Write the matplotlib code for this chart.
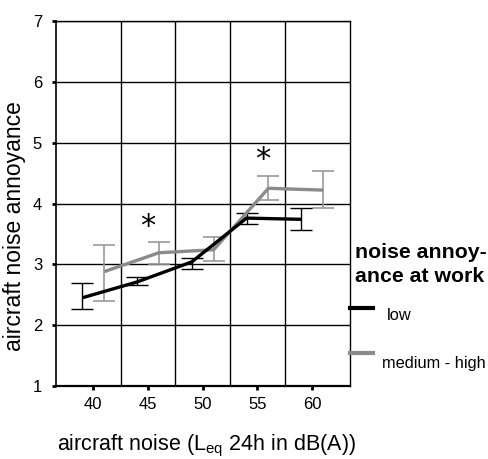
import matplotlib
matplotlib.use("Agg")
import matplotlib.pyplot as plt
from matplotlib.lines import Line2D
from matplotlib.transforms import offset_copy

plt.rcParams['font.family'] = ['Liberation Sans', 'DejaVu Sans']
plt.rcParams['mathtext.fontset'] = 'custom'
plt.rcParams['mathtext.rm'] = 'Liberation Sans'
plt.rcParams['mathtext.it'] = 'Liberation Sans'

# data
noise = [40, 45, 50, 55, 60]
low_mean = [2.45, 2.71, 3.04, 3.76, 3.74]
low_top = [2.69, 2.80, 3.11, 3.84, 3.92]
low_bot = [2.26, 2.66, 2.92, 3.66, 3.56]
high_mean = [2.88, 3.19, 3.24, 4.25, 4.22]
high_top = [3.32, 3.37, 3.45, 4.46, 4.54]
high_bot = [2.40, 3.00, 3.05, 4.05, 3.92]
star_x = [45, 55.5]
star_y = [3.70, 4.81]
yticks = [1, 2, 3, 4, 5, 6, 7]
xgrid = [42.5, 47.5, 52.5, 57.5]

fig = plt.figure(figsize=(4.89, 4.59), dpi=100)
ax = fig.add_axes([56/489, 1-386/459, (350-56)/489, (386-21)/459])

xl = [x - 1 for x in noise]
xh = [x + 1 for x in noise]

ax.errorbar(xh, high_mean,
            yerr=[[m - b for m, b in zip(high_mean, high_bot)],
                  [t - m for m, t in zip(high_mean, high_top)]],
            fmt='none', ecolor='#9a9a9a', elinewidth=1.2, capsize=8, capthick=1.2, zorder=3)
ax.errorbar(xl, low_mean,
            yerr=[[m - b for m, b in zip(low_mean, low_bot)],
                  [t - m for m, t in zip(low_mean, low_top)]],
            fmt='none', ecolor='black', elinewidth=1.0, capsize=8, capthick=1.0, zorder=3)
ax.plot(xh, high_mean, color='#8a8a8a', lw=2.4, zorder=4, solid_capstyle='butt')
ax.plot(xl, low_mean, color='black', lw=2.4, zorder=5, solid_capstyle='butt')

star_tr = offset_copy(ax.transData, fig=fig, y=-9.8, units='points')
for sx, sy in zip(star_x, star_y):
    ax.text(sx, sy, '*', ha='center', va='baseline', fontsize=22, color='black',
            family='DejaVu Sans', transform=star_tr, zorder=6)

ax.set_xlim(36.6, 63.45)
ax.set_ylim(1, 7)
ax.set_xticks(noise)
ax.set_xticklabels([str(v) for v in noise])
ax.set_yticks(yticks)
ax.set_yticklabels([str(v) for v in yticks])
ax.set_xticks(xgrid, minor=True)
ax.tick_params(axis='both', which='major', direction='out', length=3, width=2, labelsize=12, color='black')
ax.tick_params(axis='x', which='major', pad=5)
ax.tick_params(axis='y', which='major', pad=7)
ax.tick_params(axis='x', which='minor', length=0)
ax.grid(True, axis='y', which='major', color='black', lw=1.0)
ax.grid(True, axis='x', which='minor', color='black', lw=1.0)
ax.set_axisbelow(True)
for s in ax.spines.values():
    s.set_color('black')
    s.set_linewidth(1.0)
ax.spines['bottom'].set_linewidth(1.6)
ax.spines['left'].set_linewidth(1.2)

fig.text(15/489, 1-226/459, 'aircraft noise annoyance', rotation=90, ha='center', va='center', fontsize=16.5)
fig.text(206/489, 1-446/459, 'aircraft noise (L$_{\\mathrm{eq}}$ 24h in dB(A))', ha='center', va='center', fontsize=15.5)

# legend (manual)
fig.text(355/489, 1-252.7/459, 'noise annoy-', ha='left', va='center', fontsize=15.3, fontweight='bold')
fig.text(355/489, 1-276.7/459, 'ance at work', ha='left', va='center', fontsize=15.3, fontweight='bold')
fig.add_artist(Line2D([350/489, 373/489], [1-307.7/459, 1-307.7/459], color='black', lw=3.0))
fig.add_artist(Line2D([350/489, 373/489], [1-352.7/459, 1-352.7/459], color='#8a8a8a', lw=3.0))
fig.text(386.7/489, 1-316/459, 'low', ha='left', va='center', fontsize=11.8)
fig.text(381.7/489, 1-363.5/459, 'medium - high', ha='left', va='center', fontsize=11.8)

fig.savefig('out.png', dpi=100)
